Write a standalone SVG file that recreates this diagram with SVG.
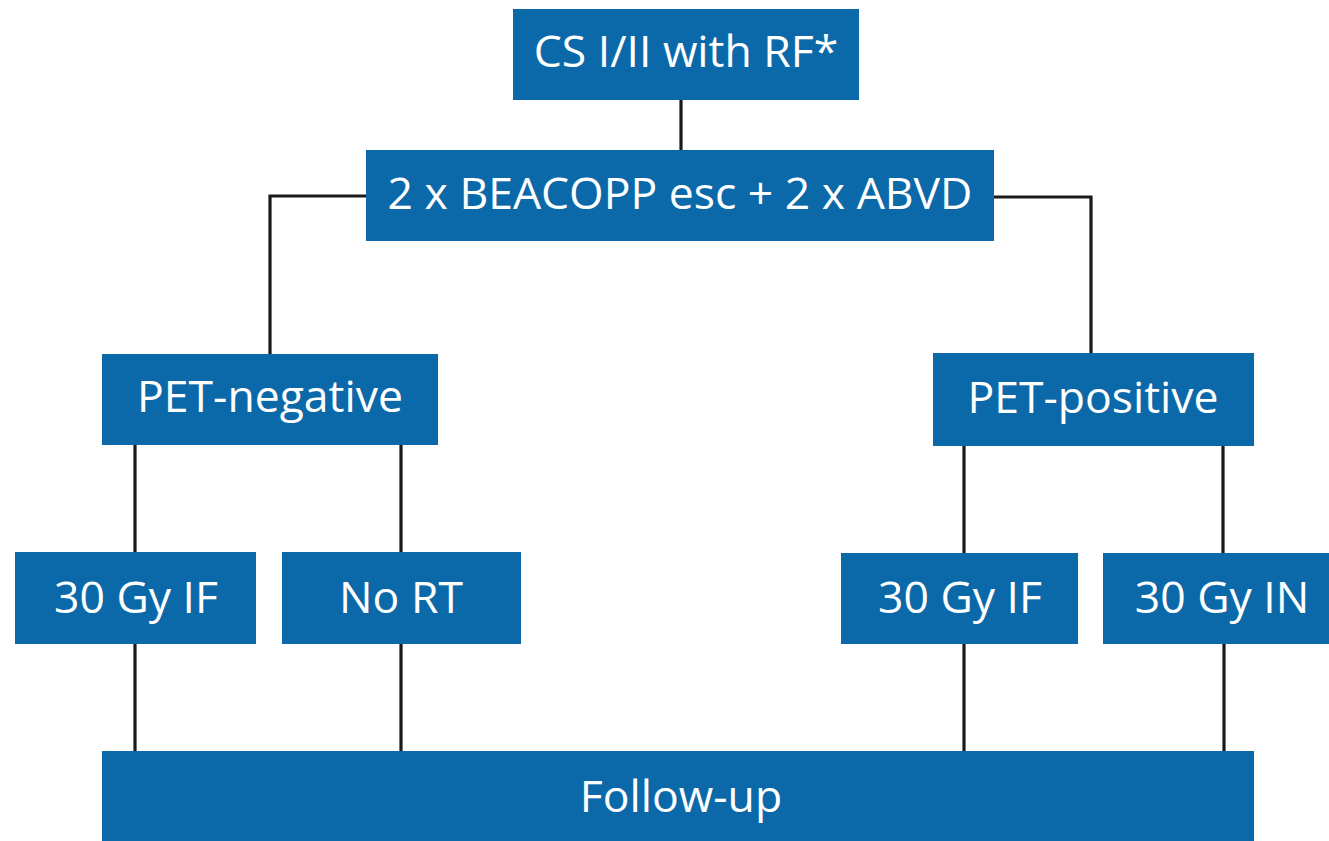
<svg xmlns="http://www.w3.org/2000/svg" width="1329" height="841" viewBox="0 0 1329 841">
  <style>
    .box { fill: #0c69a9; }
    .lbl { fill: #ffffff; font-family: "Open Sans", "Noto Sans", "Liberation Sans", sans-serif; font-size: 44.5px; text-anchor: middle; }
    .conn { fill: none; stroke: #1a1a1a; stroke-width: 3.2; }
  </style>
  <rect width="1329" height="841" fill="#ffffff"/>

  <!-- connectors -->
  <g id="connectors">
    <path class="conn" d="M681 100 V150"/>
    <path class="conn" d="M366 196 H270 V354"/>
    <path class="conn" d="M994 197 H1091 V353"/>
    <path class="conn" d="M135 445 V553"/>
    <path class="conn" d="M401 445 V553"/>
    <path class="conn" d="M964 446 V553"/>
    <path class="conn" d="M1223 446 V553"/>
    <path class="conn" d="M135 644 V751"/>
    <path class="conn" d="M401 644 V751"/>
    <path class="conn" d="M964 644 V751"/>
    <path class="conn" d="M1224 644 V751"/>
  </g>

  <g id="start">
    <rect class="box" x="513" y="9" width="346" height="91"/>
    <text class="lbl" x="686" y="67">CS I/II with RF*</text>
  </g>

  <g id="chemo">
    <rect class="box" x="366" y="150" width="628" height="91"/>
    <text class="lbl" x="680" y="209">2 x BEACOPP esc + 2 x ABVD</text>
  </g>

  <g id="pet-negative">
    <rect class="box" x="102" y="354" width="336" height="91"/>
    <text class="lbl" x="270" y="412">PET-negative</text>
  </g>

  <g id="pet-positive">
    <rect class="box" x="933" y="353" width="321" height="93"/>
    <text class="lbl" x="1093" y="413">PET-positive</text>
  </g>

  <g id="neg-if">
    <rect class="box" x="15" y="552" width="241" height="92"/>
    <text class="lbl" x="136" y="613">30 Gy IF</text>
  </g>

  <g id="neg-nort">
    <rect class="box" x="282" y="552" width="239" height="92"/>
    <text class="lbl" x="401" y="613">No RT</text>
  </g>

  <g id="pos-if">
    <rect class="box" x="841" y="553" width="237" height="91"/>
    <text class="lbl" x="960" y="613">30 Gy IF</text>
  </g>

  <g id="pos-in">
    <rect class="box" x="1103" y="553" width="240" height="91"/>
    <text class="lbl" x="1222" y="613">30 Gy IN</text>
  </g>

  <g id="follow-up">
    <rect class="box" x="102" y="751" width="1152" height="100"/>
    <text class="lbl" x="681" y="812">Follow-up</text>
  </g>
</svg>
